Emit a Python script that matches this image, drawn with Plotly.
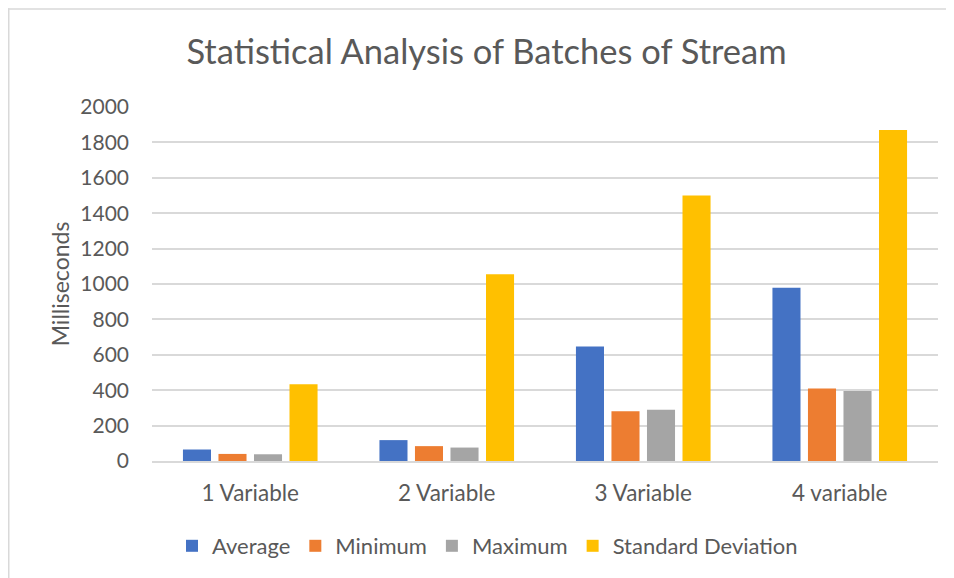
import plotly.graph_objects as go

categories = ["1 Variable", "2 Variable", "3 Variable", "4 variable"]
average = [65, 118, 647, 979]
minimum = [40, 84, 281, 409]
maximum = [38, 76, 289, 396]
std_dev = [434, 1055, 1500, 1870]
series_names = ["Average", "Minimum", "Maximum", "Standard Deviation"]
colors = ["#4472C4", "#ED7D31", "#A5A5A5", "#FFC000"]
y_ticks = [0, 200, 400, 600, 800, 1000, 1200, 1400, 1600, 1800, 2000]

# page has an 8px body margin, so the figure is drawn at (8, 8)
W, H = 946, 570
L, R, T, B = 144, 16, 99, 116.5
FONT = "Lato, Roboto, sans-serif"
TXT = "#595959"

fig = go.Figure()
for name, vals, col in zip(series_names, [average, minimum, maximum, std_dev], colors):
    fig.add_trace(go.Bar(name=name, x=categories, y=vals, marker=dict(color=col, line=dict(width=0))))

pw = W - L - R
ph = H - T - B
def px_x(p):
    return (p - L) / pw
def px_y(p):
    return (H - B - p) / ph

frame = "#D9D9D9"
shapes = [
    dict(type="line", xref="paper", yref="paper", x0=px_x(0), x1=px_x(960), y0=px_y(0.75), y1=px_y(0.75),
         line=dict(color=frame, width=1.5)),
    dict(type="line", xref="paper", yref="paper", x0=px_x(0.75), x1=px_x(0.75), y0=px_y(0), y1=px_y(590),
         line=dict(color=frame, width=1.5)),
]

fig.update_layout(
    width=W, height=H,
    margin=dict(l=L, r=R, t=T, b=B, pad=0),
    paper_bgcolor="white", plot_bgcolor="white",
    font=dict(family=FONT, color=TXT, size=22),
    title=dict(text="Statistical Analysis of Batches of Stream", x=478.5 / W, xref="container", xanchor="center",
               y=1 - 44 / H, yref="container", yanchor="middle", font=dict(size=34.5, color=TXT, family=FONT)),
    barmode="group", bargap=0.277, bargroupgap=0.21,
    showlegend=True,
    legend=dict(orientation="h", x=479.5 / W, xanchor="center", xref="container",
                y=1 - 538 / H, yref="container", yanchor="middle", font=dict(size=22, color=TXT),
                traceorder="normal", itemwidth=30, bgcolor="rgba(0,0,0,0)"),
    shapes=shapes,
)
fig.update_yaxes(range=[0, 2000], tickvals=y_ticks, showgrid=True, gridcolor="#D9D9D9", gridwidth=1.5,
                 zeroline=False, showline=False, ticklabelstandoff=22, tickfont=dict(size=21, color=TXT),
                 title=dict(text="Milliseconds", font=dict(size=23, color=TXT), standoff=4))
fig.update_xaxes(showgrid=False, zeroline=False, showline=True, linecolor="#D9D9D9", linewidth=1.5,
                 ticklabelstandoff=11, tickfont=dict(size=22.5, color=TXT))

fig.write_html("out.html")
